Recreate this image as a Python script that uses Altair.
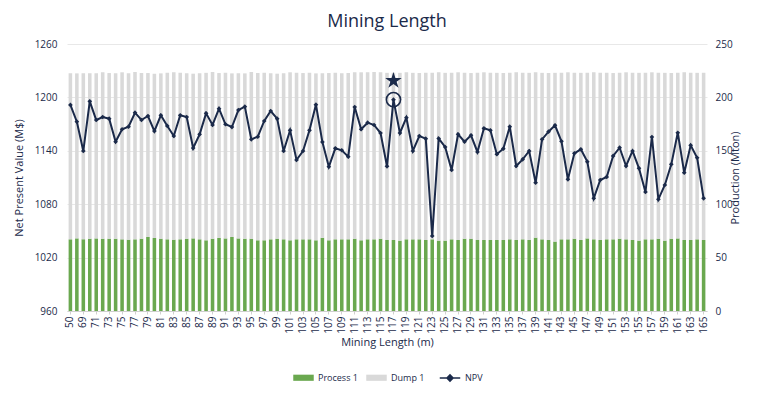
import altair as alt
import pandas as pd

categories = ["50"] + [str(v) for v in range(68, 166)]
tick_labels = categories[::2]

npv = [1191.5, 1172.7, 1139.8, 1195.6, 1174.6, 1178.0, 1176.1, 1150.2, 1164.2, 1167.1,
       1182.8, 1174.6, 1179.1, 1162.2, 1179.9, 1167.9, 1156.6, 1179.9, 1178.0, 1143.1,
       1158.5, 1182.1, 1169.0, 1187.3, 1169.8, 1166.7, 1185.8, 1189.6, 1152.9, 1155.8,
       1173.5, 1184.7, 1176.1, 1139.8, 1163.0, 1129.7, 1139.8, 1163.0, 1191.8, 1149.9,
       1122.1, 1142.8, 1140.6, 1133.4, 1189.2, 1164.2, 1171.6, 1169.0, 1160.0, 1122.6,
       1197.5, 1160.0, 1177.2, 1139.8, 1156.6, 1153.6, 1044.3, 1153.8, 1144.3, 1118.4,
       1158.5, 1150.2, 1157.4, 1138.7, 1165.3, 1163.0, 1136.1, 1142.4, 1167.1, 1122.9,
       1130.4, 1139.8, 1104.2, 1152.9, 1161.5, 1168.7, 1150.7, 1108.0, 1137.2, 1141.7,
       1127.8, 1086.6, 1107.2, 1110.6, 1134.2, 1143.5, 1122.9, 1139.8, 1120.3, 1093.7,
       1155.5, 1085.5, 1101.6, 1124.8, 1160.3, 1115.4, 1146.2, 1132.2, 1086.6]

process = [67.1, 68.0, 67.1, 67.7, 68.0, 67.7, 67.7, 67.7, 67.1, 66.8,
           67.1, 67.7, 69.3, 68.4, 67.7, 67.1, 66.8, 67.1, 67.7, 68.0,
           67.1, 66.2, 67.7, 68.4, 68.0, 69.3, 68.0, 67.7, 67.7, 66.2,
           66.2, 67.1, 67.7, 67.1, 66.2, 67.1, 67.1, 67.1, 66.2, 68.7,
           66.2, 67.1, 67.1, 67.1, 67.7, 66.2, 67.1, 67.1, 67.7, 66.5,
           66.5, 65.9, 67.1, 67.1, 67.1, 66.5, 67.1, 65.9, 65.9, 67.1,
           66.5, 67.7, 67.7, 66.5, 66.5, 66.5, 66.5, 66.5, 67.1, 66.5,
           67.1, 66.5, 68.7, 67.1, 66.5, 65.0, 67.1, 67.1, 67.7, 66.5,
           68.0, 67.1, 66.5, 67.1, 67.1, 67.7, 67.1, 66.5, 65.9, 67.1,
           67.1, 67.7, 65.9, 67.7, 68.0, 66.5, 66.5, 67.1, 66.5]

total = [222.5, 222.5, 222.5, 222.5, 222.5, 223.5, 222.8, 222.5, 223.5, 222.5,
         223.8, 222.8, 222.8, 222.2, 222.5, 223.0, 223.5, 223.0, 222.5, 222.2,
         222.5, 223.0, 223.8, 222.8, 223.0, 222.5, 222.5, 222.5, 223.8, 222.8,
         223.0, 222.5, 222.2, 222.5, 223.5, 223.0, 222.8, 223.0, 222.5, 222.5,
         222.8, 223.0, 222.5, 222.8, 223.5, 223.5, 223.5, 223.8, 223.5, 223.0,
         223.0, 223.0, 223.5, 223.0, 222.8, 223.0, 223.0, 223.5, 223.0, 223.0,
         223.5, 223.0, 222.8, 223.0, 223.5, 223.0, 223.0, 222.8, 223.0, 223.5,
         223.0, 223.0, 223.5, 223.0, 222.8, 223.0, 223.0, 223.5, 223.0, 223.0,
         223.0, 223.5, 223.0, 223.0, 222.8, 223.0, 223.5, 223.0, 223.0, 223.0,
         223.5, 223.0, 223.0, 222.8, 223.0, 223.5, 223.0, 223.0, 223.0]

dump = [round(t - p, 1) for t, p in zip(total, process)]

NAVY = "#1b2a4a"
GREEN = "#6aa84f"
GRAY = "#d9d9d9"
FONT = "Open Sans"

bar_rows = []
for c, p, d in zip(categories, process, dump):
    bar_rows.append({"cat": c, "series": "Process 1", "value": p, "ord": 0})
    bar_rows.append({"cat": c, "series": "Dump 1", "value": d, "ord": 1})
bar_df = pd.DataFrame(bar_rows)

line_df = pd.DataFrame({"cat": categories, "npv": npv, "series": "NPV"})
imax = max(range(len(npv)), key=lambda i: npv[i])
max_df = line_df.iloc[[imax]]

x_enc = alt.X(
    "cat:N", sort=categories,
    scale=alt.Scale(paddingInner=0.45, paddingOuter=0.25),
    axis=alt.Axis(values=tick_labels, labelAngle=270, title="Mining Length (m)",
                  labelFontSize=10, labelColor=NAVY, titleColor=NAVY, titleFontSize=11,
                  titleFontWeight="normal", domainColor="#d0d0d0", tickColor="#d0d0d0",
                  tickSize=3, labelPadding=2, titlePadding=3),
)

bars = alt.Chart(bar_df).mark_bar().encode(
    x=x_enc,
    y=alt.Y("value:Q", stack="zero",
            scale=alt.Scale(domain=[0, 250]),
            axis=alt.Axis(orient="right", values=[0, 50, 100, 150, 200, 250],
                          title="Production (Mton)", titleAngle=270, grid=False,
                          domain=False, ticks=False, labelColor=NAVY, titleColor=NAVY,
                          labelFontSize=10, titleFontSize=11, titleFontWeight="normal",
                          labelPadding=8, titlePadding=8)),
    color=alt.Color("series:N", scale=alt.Scale(domain=["Process 1", "Dump 1"], range=[GREEN, GRAY]),
                    legend=alt.Legend(title=None, orient="none", legendX=226, legendY=323,
                                      direction="horizontal",
                                      symbolType="M-1,-0.3H1V0.3H-1Z", symbolSize=420,
                                      labelFontSize=9, labelColor=NAVY, symbolStrokeWidth=0,
                                      columnPadding=8)),
    order=alt.Order("ord:Q"),
)

line_y = alt.Y("npv:Q", scale=alt.Scale(domain=[960, 1260]),
               axis=alt.Axis(orient="left", values=[960, 1020, 1080, 1140, 1200, 1260],
                             format="d",
                             title="Net Present Value (M$)", grid=True, gridColor="#e8e8e8",
                             domain=False, ticks=False, labelColor=NAVY, titleColor=NAVY,
                             labelFontSize=10, titleFontSize=11, titleFontWeight="normal",
                             labelPadding=10, titlePadding=10))

line = alt.Chart(line_df).mark_line(
    strokeWidth=2,
    point=alt.OverlayMarkDef(shape="diamond", size=22, filled=True, color=NAVY),
).encode(
    x=x_enc,
    y=line_y,
    color=alt.Color("series:N", scale=alt.Scale(domain=["NPV"], range=[NAVY]),
                    legend=alt.Legend(title=None, orient="none", legendX=372, legendY=323,
                                      direction="horizontal",
                                      symbolType="M-1,0H1M-0.3,0L0,-0.3L0.3,0L0,0.3Z",
                                      symbolSize=420, symbolStrokeWidth=1.5,
                                      symbolFillColor=NAVY, symbolStrokeColor=NAVY,
                                      labelFontSize=9, labelColor=NAVY)),
)

ring = alt.Chart(max_df).mark_point(shape="circle", size=200, filled=False, color=NAVY,
                                    opacity=1, strokeWidth=1.6).encode(x=x_enc, y=line_y)
star = alt.Chart(max_df).mark_point(
    shape="M0,-1L0.2245,-0.309L0.9511,-0.309L0.3633,0.118L0.5878,0.809L0,0.382L-0.5878,0.809L-0.3633,0.118L-0.9511,-0.309L-0.2245,-0.309Z",
    size=300, filled=True, color=NAVY, opacity=1, yOffset=-19,
).encode(x=x_enc, y=line_y)

left_layer = alt.layer(line, ring, star)

chart = alt.layer(bars, left_layer).resolve_scale(y="independent", color="independent").properties(
    width=640, height=267,
    title=alt.TitleParams("Mining Length", fontSize=18, font=FONT, color=NAVY,
                          fontWeight="normal", offset=8),
).configure(font=FONT).configure_view(stroke=None)

chart.save("out.html", embed_options={"renderer": "svg", "actions": False})
